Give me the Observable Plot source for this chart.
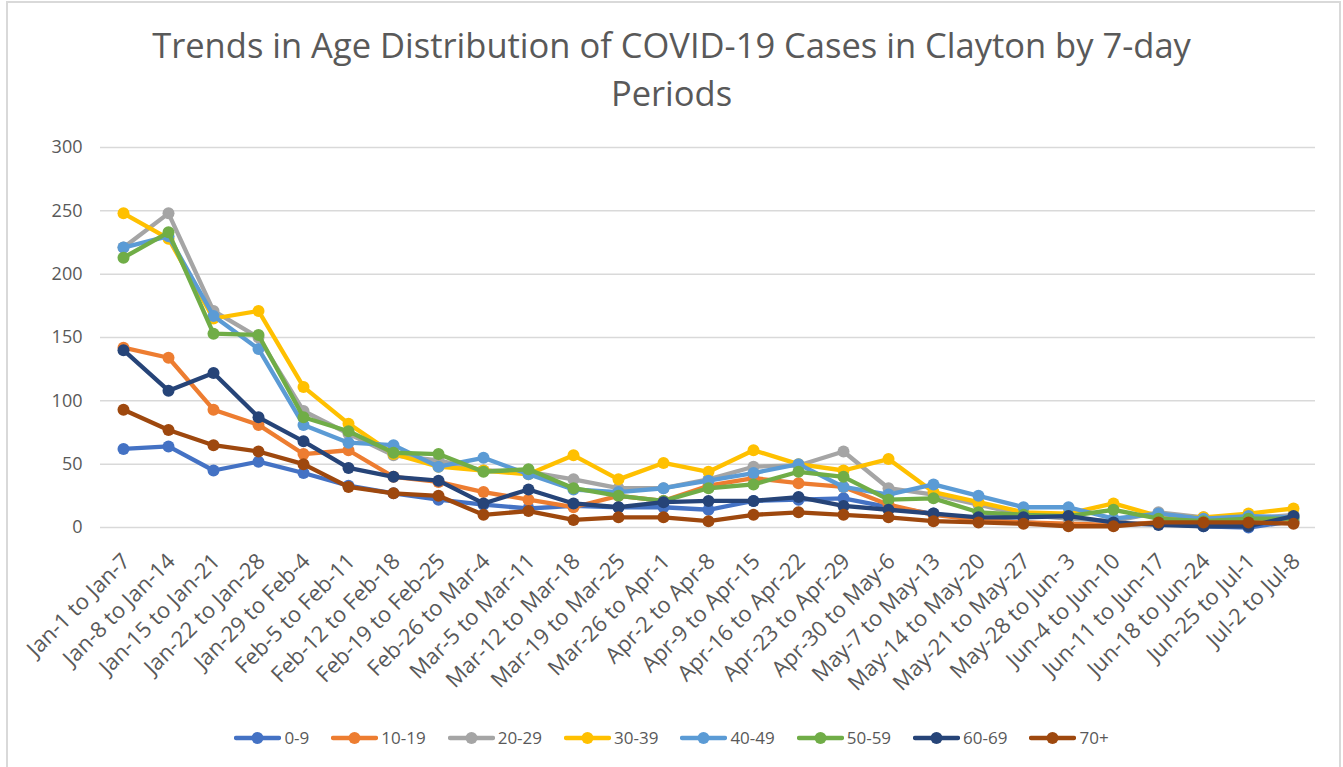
<!DOCTYPE html>
<html>
<head>
<meta charset="utf-8">
<script src="https://cdn.jsdelivr.net/npm/d3@7"></script>
<script src="https://cdn.jsdelivr.net/npm/@observablehq/plot@0.6"></script>
<style>
  html, body { margin: 0; padding: 0; background: #fff; }
  #frame { position: relative; width: 1343px; height: 767px; background: #fff; overflow: hidden; font-family: "Open Sans", sans-serif; color: #595959; }
  #border { position: absolute; left: 6px; top: 1px; width: 1335px; height: 800px; border: 2px solid #d9d9d9; box-sizing: border-box; }
  #title { position: absolute; top: 21px; left: 0; width: 1343px; text-align: center; font-size: 34.5px; line-height: 48px; white-space: nowrap; }
  #chart { position: absolute; left: 0; top: 120px; }
  #legend { position: absolute; top: 726px; left: 0; width: 1343px; display: flex; justify-content: center; align-items: center; font-size: 17px; }
  .item { display: flex; align-items: center; margin: 0 11px; }
  .item svg { margin-right: 3px; }
</style>
</head>
<body>
<div id="frame">
  <div id="border"></div>
  <div id="title">Trends in Age Distribution of COVID-19 Cases in Clayton by 7-day<br>Periods</div>
  <div id="chart"></div>
  <div id="legend"></div>
</div>
<script>
const periods = ["Jan-1 to Jan-7","Jan-8 to Jan-14","Jan-15 to Jan-21","Jan-22 to Jan-28","Jan-29 to Feb-4","Feb-5 to Feb-11","Feb-12 to Feb-18","Feb-19 to Feb-25","Feb-26 to Mar-4","Mar-5 to Mar-11","Mar-12 to Mar-18","Mar-19 to Mar-25","Mar-26 to Apr-1","Apr-2 to Apr-8","Apr-9 to Apr-15","Apr-16 to Apr-22","Apr-23 to Apr-29","Apr-30 to May-6","May-7 to May-13","May-14 to May-20","May-21 to May-27","May-28 to Jun- 3","Jun-4 to Jun-10","Jun-11 to Jun-17","Jun-18 to Jun-24","Jun-25 to Jul-1","Jul-2 to Jul-8"];

const ageGroups = ["0-9","10-19","20-29","30-39","40-49","50-59","60-69","70+"];
const colors = ["#4472C4","#ED7D31","#A5A5A5","#FFC000","#5B9BD5","#70AD47","#264478","#9E480E"];

const age0to9   = [62, 64, 45, 52, 43, 33, 27, 22, 18, 15, 17, 16, 16, 14, 21, 22, 23, 16, 11, 6, 4, 2, 2, 3, 1, 0, 5];
const age10to19 = [142, 134, 93, 81, 58, 61, 40, 36, 28, 22, 16, 25, 21, 33, 39, 35, 32, 18, 10, 6, 4, 3, 2, 4, 3, 4, 4];
const age20to29 = [221, 248, 171, 150, 92, 74, 57, 53, 45, 44, 38, 31, 31, 38, 48, 49, 60, 31, 26, 18, 10, 7, 5, 12, 8, 7, 10];
const age30to39 = [248, 228, 165, 171, 111, 82, 58, 48, 45, 42, 57, 38, 51, 44, 61, 50, 45, 54, 28, 20, 12, 11, 19, 9, 8, 11, 15];
const age40to49 = [221, 230, 167, 141, 81, 67, 65, 48, 55, 42, 30, 28, 31, 37, 43, 50, 32, 26, 34, 25, 16, 16, 7, 11, 7, 9, 8];
const age50to59 = [213, 233, 153, 152, 87, 76, 59, 58, 44, 46, 31, 25, 21, 31, 34, 44, 40, 22, 23, 12, 10, 9, 14, 7, 5, 7, 7];
const age60to69 = [140, 108, 122, 87, 68, 47, 40, 37, 19, 30, 19, 16, 20, 21, 21, 24, 17, 14, 11, 8, 8, 9, 4, 2, 1, 1, 9];
const age70plus = [93, 77, 65, 60, 50, 32, 27, 25, 10, 13, 6, 8, 8, 5, 10, 12, 10, 8, 5, 4, 3, 1, 1, 4, 4, 4, 3];

const yTicks = [0, 50, 100, 150, 200, 250, 300];

const seriesValues = [age0to9, age10to19, age20to29, age30to39, age40to49, age50to59, age60to69, age70plus];

const marks = [Plot.ruleY(yTicks, {stroke: "#d9d9d9", strokeWidth: 1.5})];
ageGroups.forEach((g, k) => {
  const rows = periods.map((p, i) => ({period: p, group: g, value: seriesValues[k][i]}));
  marks.push(Plot.line(rows, {x: "period", y: "value", stroke: colors[k], strokeWidth: 4.3, strokeLinejoin: "round"}));
  marks.push(Plot.dot(rows, {x: "period", y: "value", fill: colors[k], r: 6}));
});
marks.push(Plot.text(periods, {x: d => d, frameAnchor: "bottom", rotate: -45, textAnchor: "end", dx: 8, dy: 35, fontSize: 22, fill: "#595959"}));

const chart = Plot.plot({
  width: 1343,
  height: 600,
  marginLeft: 100,
  marginRight: 28,
  marginTop: 27,
  marginBottom: 193,
  style: {fontFamily: "Open Sans", fontSize: "18px", color: "#595959", background: "transparent", overflow: "visible"},
  x: {type: "point", domain: periods, padding: 0.5, axis: null},
  y: {domain: [0, 300], ticks: yTicks, tickSize: 0, tickPadding: 18, label: null},
  marks
});
document.getElementById("chart").appendChild(chart);

const legend = document.getElementById("legend");
ageGroups.forEach((g, k) => {
  const item = document.createElement("div");
  item.className = "item";
  item.innerHTML = `<svg width="47" height="14"><line x1="2" y1="7" x2="45" y2="7" stroke="${colors[k]}" stroke-width="4.3" stroke-linecap="round"/><circle cx="23.5" cy="7" r="6" fill="${colors[k]}"/></svg><span>${g}</span>`;
  legend.appendChild(item);
});
</script>
</body>
</html>
